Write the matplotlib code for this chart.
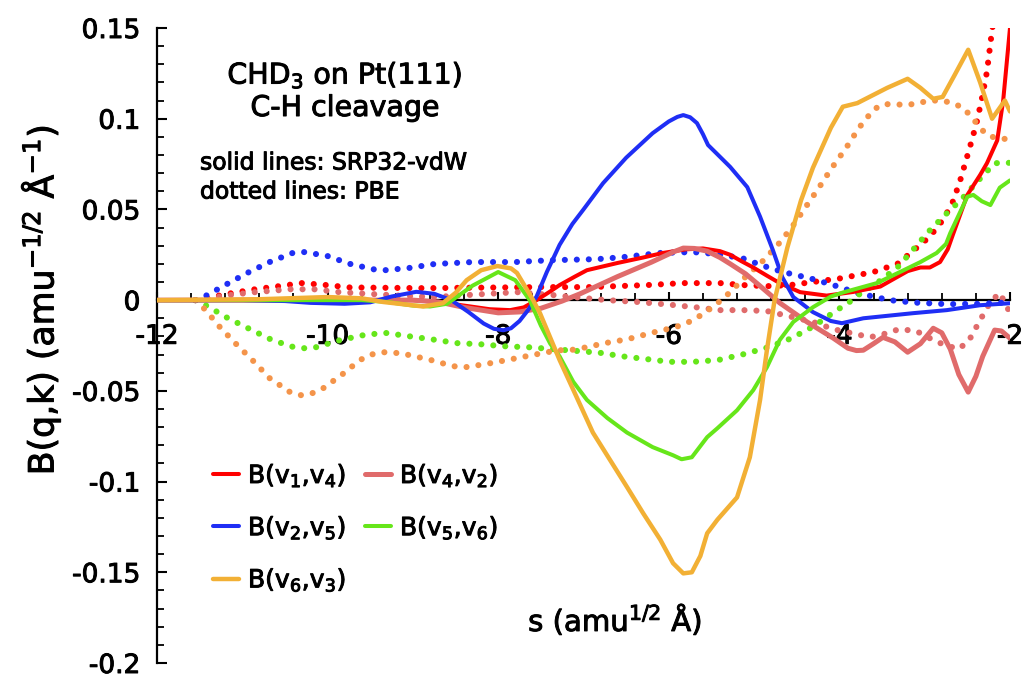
import matplotlib
matplotlib.use("Agg")
import matplotlib.pyplot as plt
import matplotlib.patheffects as pe
from matplotlib.ticker import MultipleLocator, FixedLocator, FixedFormatter

plt.rcParams['font.family'] = ['DejaVu Sans']
plt.rcParams['mathtext.fontset'] = 'dejavusans'
plt.rcParams['mathtext.default'] = 'regular'
plt.rcParams['axes.unicode_minus'] = False

# ---- SRP32-vdW (solid) couplings ----
s_v1v4 = [-12, -9.0, -8.7, -8.4, -8.1, -7.86, -7.7, -7.55, -7.4, -7.28, -7.1, -6.96, -6.6,
          -6.3, -6.07, -5.8, -5.6, -5.4, -5.28, -5.15, -5.01, -4.85, -4.7, -4.46, -4.15,
          -3.84, -3.52, -3.37, -3.2, -3.05, -2.94, -2.82, -2.73, -2.67, -2.5, -2.35, -2.27,
          -2.15, -2.08, -2.0]
b_v1v4 = [0, 0, -0.001, -0.003, -0.005, -0.0055, -0.004, 0, 0.0045, 0.0083, 0.013, 0.0165,
          0.0205, 0.0235, 0.026, 0.028, 0.0285, 0.027, 0.025, 0.0215, 0.018, 0.0135, 0.0094,
          0.0044, 0.0025, 0.0045, 0.0075, 0.0115, 0.016, 0.018, 0.018, 0.021, 0.028, 0.036,
          0.058, 0.069, 0.0755, 0.088, 0.11, 0.15]

s_v4v2 = [-12, -9.0, -8.7, -8.4, -8.0, -7.75, -7.5, -7.25, -7.04, -6.6, -6.2, -5.95, -5.83,
          -5.7, -5.55, -5.4, -5.28, -5.1, -4.97, -4.7, -4.38, -4.07, -3.9, -3.8, -3.72, -3.6,
          -3.49, -3.35, -3.2, -3.05, -2.9, -2.8, -2.7, -2.6, -2.49, -2.4, -2.32, -2.18, -2.1,
          -2.0]
b_v4v2 = [0, 0, -0.001, -0.004, -0.007, -0.0065, -0.0045, -0.0005, 0.0035, 0.013, 0.021,
          0.0265, 0.0287, 0.0285, 0.027, 0.0235, 0.020, 0.0145, 0.0094, -0.0015, -0.012,
          -0.021, -0.0265, -0.0278, -0.0276, -0.024, -0.0205, -0.023, -0.0287, -0.024, -0.0155,
          -0.018, -0.027, -0.041, -0.0507, -0.042, -0.031, -0.0165, -0.017, -0.021]

s_v2v5 = [-12, -11.0, -10.5, -10.2, -9.8, -9.5, -9.25, -8.96, -8.75, -8.55, -8.35, -8.17,
          -8.05, -7.94, -7.85, -7.75, -7.65, -7.55, -7.43, -7.28, -7.13, -7.0, -6.77, -6.5,
          -6.19, -6.0, -5.9, -5.83, -5.75, -5.67, -5.6, -5.54, -5.4, -5.28, -5.08, -4.93,
          -4.78, -4.67, -4.54, -4.31, -4.1, -3.97, -3.72, -3.14, -2.74, -2.35, -2.0]
b_v2v5 = [0, 0, -0.0005, -0.0015, -0.002, -0.0012, 0.002, 0.0046, 0.0035, 0, -0.0065, -0.0129,
          -0.0158, -0.0166, -0.0155, -0.0115, -0.0055, 0.002, 0.0155, 0.0305, 0.042, 0.05,
          0.0645, 0.0785, 0.092, 0.0985, 0.101, 0.102, 0.1008, 0.0976, 0.0915, 0.0855, 0.079,
          0.0734, 0.0623, 0.046, 0.0276, 0.0127, 0.0017, -0.0066, -0.0115, -0.0127, -0.010,
          -0.0072, -0.0055, -0.0028, -0.0017]

s_v5v6 = [-12, -9.6, -9.3, -9.0, -8.8, -8.6, -8.3, -8.0, -7.8, -7.63, -7.5, -7.39, -7.28,
          -7.12, -6.96, -6.72, -6.49, -6.19, -5.95, -5.85, -5.73, -5.55, -5.43, -5.2, -5.01,
          -4.85, -4.7, -4.54, -4.31, -4.1, -3.96, -3.56, -3.29, -3.05, -2.86, -2.75, -2.7,
          -2.6, -2.5, -2.43, -2.33, -2.23, -2.12, -2.0]
b_v5v6 = [0, 0, -0.001, -0.003, -0.0035, -0.002, 0.008, 0.0155, 0.011, 0, -0.014, -0.024,
          -0.031, -0.045, -0.055, -0.065, -0.073, -0.081, -0.0855, -0.0877, -0.0866, -0.0755,
          -0.0706, -0.0607, -0.0496, -0.037, -0.022, -0.012, -0.0039, 0.002, 0.0042, 0.0094,
          0.0155, 0.021, 0.026, 0.031, 0.037, 0.047, 0.057, 0.058, 0.0545, 0.0524, 0.062,
          0.066]

s_v6v3 = [-12, -10.8, -10.0, -9.6, -9.35, -8.88, -8.65, -8.5, -8.37, -8.2, -8.01, -7.85,
          -7.78, -7.59, -7.51, -7.28, -7.08, -6.89, -6.69, -6.49, -6.3, -6.1, -5.95, -5.83,
          -5.73, -5.63, -5.55, -5.43, -5.2, -5.05, -4.93, -4.85, -4.76, -4.61, -4.45, -4.31,
          -4.1, -3.96, -3.79, -3.44, -3.2, -3.05, -2.9, -2.79, -2.65, -2.49, -2.35, -2.21,
          -2.06, -2.0]
b_v6v3 = [0, 0.0005, 0.0017, 0.001, -0.001, -0.0035, -0.0017, 0.004, 0.011, 0.0165, 0.0188,
          0.0175, 0.015, 0, -0.0072, -0.033, -0.0535, -0.073, -0.088, -0.103, -0.1175, -0.132,
          -0.145, -0.1506, -0.150, -0.141, -0.1285, -0.121, -0.1087, -0.0866, -0.055, -0.0276,
          0, 0.029, 0.055, 0.073, 0.095, 0.1066, 0.1086, 0.117, 0.122, 0.117, 0.111, 0.112,
          0.124, 0.138, 0.12, 0.100, 0.110, 0.104]

# ---- PBE (dotted) couplings ----
p_v1v4_s = [-11.55, -11.12, -10.85, -10.57, -10.3, -10.01, -9.74, -8.87, -7.5, -6.92, -6.26,
            -5.83, -5.4, -5.13, -4.85, -4.58, -4.31, -3.99, -3.6, -3.32, -3.14, -2.94, -2.79,
            -2.68, -2.59, -2.47, -2.39, -2.33, -2.27, -2.21, -2.17]
p_v1v4_b = [0, 0.0039, 0.006, 0.0077, 0.0094, 0.0083, 0.007, 0.0066, 0.0072, 0.0072, 0.0083,
            0.0094, 0.0094, 0.0083, 0.0077, 0.0083, 0.010, 0.012, 0.0155, 0.020, 0.027, 0.035,
            0.044, 0.053, 0.065, 0.0844, 0.098, 0.111, 0.126, 0.149, 0.16]

p_v4v2_s = [-11.55, -11.12, -10.85, -10.44, -10.16, -9.86, -9.46, -9.03, -8.75, -8.3, -7.78,
            -7.36, -6.96, -6.72, -6.37, -5.99, -5.67, -5.4, -5.13, -4.85, -4.58, -4.31, -4.07,
            -3.78, -3.64, -3.5, -3.3, -3.1, -2.86, -2.61, -2.49, -2.35, -2.23, -2.12, -2.0]
p_v4v2_b = [0, 0.003, 0.0044, 0.006, 0.006, 0.0044, 0.0033, 0.0022, 0.0017, 0.003, 0.0044,
            0.0028, 0.001, 0, -0.001, -0.0025, -0.004, -0.0055, -0.0055, -0.006, -0.009,
            -0.012, -0.016, -0.019, -0.0204, -0.019, -0.016, -0.017, -0.023, -0.027, -0.023,
            -0.011, -0.001, 0.004, -0.007]

p_v2v5_s = [-11.55, -11.41, -11.16, -10.92, -10.68, -10.41, -10.27, -10.0, -9.74, -9.46,
            -9.33, -9.05, -8.75, -8.3, -7.8, -7.39, -6.84, -6.54, -6.1, -5.72, -5.43, -5.13,
            -4.9, -4.66, -4.34, -4.07, -3.79, -3.41, -3.14, -2.74, -2.35, -2.0]
p_v2v5_b = [0, 0.0028, 0.0094, 0.0155, 0.021, 0.026, 0.0265, 0.0243, 0.020, 0.017, 0.0165,
            0.0177, 0.0199, 0.021, 0.021, 0.022, 0.0226, 0.0237, 0.026, 0.0265, 0.0254, 0.023,
            0.019, 0.0155, 0.012, 0.0083, 0.0039, 0, -0.0013, -0.0022, -0.002, -0.0012]

p_v5v6_s = [-11.55, -11.41, -11.17, -10.91, -10.65, -10.39, -10.27, -10.14, -9.85, -9.58,
            -9.33, -9.03, -8.75, -8.48, -8.21, -7.94, -7.63, -7.36, -7.08, -6.81, -6.54,
            -6.26, -5.99, -5.72, -5.42, -5.14, -4.87, -4.61, -4.38, -4.25, -4.03, -3.9, -3.78,
            -3.56, -3.32, -3.14, -2.96, -2.76, -2.56, -2.39, -2.18, -2.0]
p_v5v6_b = [0, -0.0033, -0.0099, -0.016, -0.022, -0.026, -0.0265, -0.026, -0.022, -0.0193,
            -0.018, -0.020, -0.0218, -0.0237, -0.0243, -0.0254, -0.026, -0.027, -0.028, -0.029,
            -0.031, -0.0325, -0.034, -0.034, -0.033, -0.030, -0.0265, -0.022, -0.0165, -0.0127,
            -0.0055, -0.0017, 0.0028, 0.0094, 0.018, 0.0276, 0.0375, 0.047, 0.056, 0.065,
            0.0755, 0.0757]

p_v6v3_s = [-11.55, -11.44, -11.26, -11.07, -10.87, -10.68, -10.44, -10.31, -10.18, -10.05,
            -9.83, -9.62, -9.49, -9.35, -9.21, -9.07, -8.79, -8.53, -8.39, -8.12, -7.84, -7.57,
            -7.3, -7.16, -7.02, -6.75, -6.48, -6.2, -5.93, -5.79, -5.66, -5.55, -5.43, -5.28,
            -5.13, -4.91, -4.73, -4.56, -4.4, -4.24, -4.09, -3.92, -3.77, -3.6, -3.49, -3.35,
            -3.21, -3.08, -2.94, -2.8, -2.67, -2.55, -2.45, -2.36, -2.27, -2.14, -2.0]
p_v6v3_b = [0, -0.005, -0.015, -0.0243, -0.0336, -0.043, -0.0507, -0.0524, -0.0513, -0.0485,
            -0.041, -0.033, -0.030, -0.0287, -0.029, -0.030, -0.033, -0.0364, -0.037, -0.035,
            -0.0325, -0.030, -0.0276, -0.0276, -0.0265, -0.0237, -0.0215, -0.018, -0.015,
            -0.0127, -0.0094, -0.006, -0.0017, 0.0044, 0.0116, 0.021, 0.030, 0.040, 0.051,
            0.062, 0.0728, 0.084, 0.095, 0.105, 0.108, 0.108, 0.1075, 0.1086, 0.110, 0.110,
            0.1086, 0.106, 0.101, 0.0955, 0.091, 0.089, 0.0888]

labels = [r'B(v$_1$,v$_4$)', r'B(v$_4$,v$_2$)', r'B(v$_2$,v$_5$)',
          r'B(v$_5$,v$_6$)', r'B(v$_6$,v$_3$)']
x_ticks = [-12, -10, -8, -6, -4, -2]
y_ticks = [-0.2, -0.15, -0.1, -0.05, 0, 0.05, 0.1, 0.15]
y_tick_labels = ['-0.2', '-0.15', '-0.1', '-0.05', '0', '0.05', '0.1', '0.15']

solid_colors = ['#ff0000', '#e06b6b', '#1f2ef5', '#66e61a', '#f2b035']
dot_colors = ['#ff0000', '#e06b6b', '#1f2ef5', '#66e61a', '#f4944a']

# slightly heavier glyphs for all text
heavy = [pe.withStroke(linewidth=0.7, foreground='black')]

fig = plt.figure(figsize=(10.26, 6.79), dpi=100)
ax = fig.add_axes([157 / 1026, 1 - 663 / 679, (1010 - 157) / 1026, (663 - 28) / 679])

dotted = [(p_v1v4_s, p_v1v4_b), (p_v4v2_s, p_v4v2_b), (p_v2v5_s, p_v2v5_b),
          (p_v5v6_s, p_v5v6_b), (p_v6v3_s, p_v6v3_b)]
for (xs, ys), c in zip(dotted, dot_colors):
    ax.plot(xs, ys, color=c, lw=4.4, linestyle=(0, (0.01, 1.95)),
            dash_capstyle='round', zorder=2)

solid = [(s_v1v4, b_v1v4), (s_v4v2, b_v4v2), (s_v2v5, b_v2v5),
         (s_v5v6, b_v5v6), (s_v6v3, b_v6v3)]
widths = [2.9, 3.6, 2.9, 2.9, 3.2]
handles = []
for (xs, ys), c, w, lab in zip(solid, solid_colors, widths, labels):
    h, = ax.plot(xs, ys, color=c, lw=w, solid_capstyle='round',
                 solid_joinstyle='round', label=lab, zorder=3)
    handles.append(h)

ax.set_xlim(-12, -2)
ax.set_ylim(-0.2, 0.15)

ax.spines['top'].set_visible(False)
ax.spines['right'].set_visible(False)
ax.spines['bottom'].set_position(('data', 0))
ax.spines['bottom'].set_linewidth(1.6)
ax.spines['left'].set_linewidth(1.6)
ax.spines['bottom'].set_zorder(1)

ax.xaxis.set_major_locator(FixedLocator(x_ticks))
ax.xaxis.set_minor_locator(MultipleLocator(0.4))
ax.yaxis.set_major_locator(FixedLocator(y_ticks))
ax.yaxis.set_major_formatter(FixedFormatter(y_tick_labels))
ax.yaxis.set_minor_locator(MultipleLocator(0.01))
ax.tick_params(axis='x', which='major', direction='in', length=6, width=1.5,
               labelsize=19, pad=17)
ax.tick_params(axis='x', which='minor', direction='in', length=5, width=1.3)
ax.tick_params(axis='y', which='major', direction='in', length=7, width=1.5,
               labelsize=19, pad=12)
ax.tick_params(axis='y', which='minor', direction='in', length=5, width=1.3)
plt.setp(ax.get_xticklabels() + ax.get_yticklabels(), path_effects=heavy)

fig.text(40 / 1026, 1 - 300 / 679, r'B(q,k) (amu$^{-1/2}$ Å$^{-1}$)',
         rotation=90, ha='center', va='center', fontsize=25, path_effects=heavy)
fig.text(615 / 1026, 1 - 620 / 679, r's (amu$^{1/2}$ Å)',
         ha='center', va='center', fontsize=21, path_effects=heavy)

fig.text(345 / 1026, 1 - 75 / 679, r'CHD$_3$ on Pt(111)',
         ha='center', va='center', fontsize=20.5, path_effects=heavy)
fig.text(345 / 1026, 1 - 108 / 679, 'C-H cleavage',
         ha='center', va='center', fontsize=20.5, path_effects=heavy)
fig.text(200 / 1026, 1 - 163 / 679, 'solid lines: SRP32-vdW',
         ha='left', va='center', fontsize=16.9, path_effects=heavy)
fig.text(200 / 1026, 1 - 192 / 679, 'dotted lines: PBE',
         ha='left', va='center', fontsize=16.9, path_effects=heavy)

order = [0, 2, 4, 1, 3]
leg = fig.legend([handles[i] for i in order], [labels[i] for i in order], ncol=2,
                 loc='upper left', bbox_to_anchor=(213 / 1026, 1 - 462 / 679),
                 frameon=False, fontsize=18, handlelength=1.05,
                 handletextpad=0.35, columnspacing=0.75, labelspacing=1.0,
                 borderpad=0, borderaxespad=0)
plt.setp(leg.get_texts(), path_effects=heavy)

fig.savefig('out.png', dpi=100)
